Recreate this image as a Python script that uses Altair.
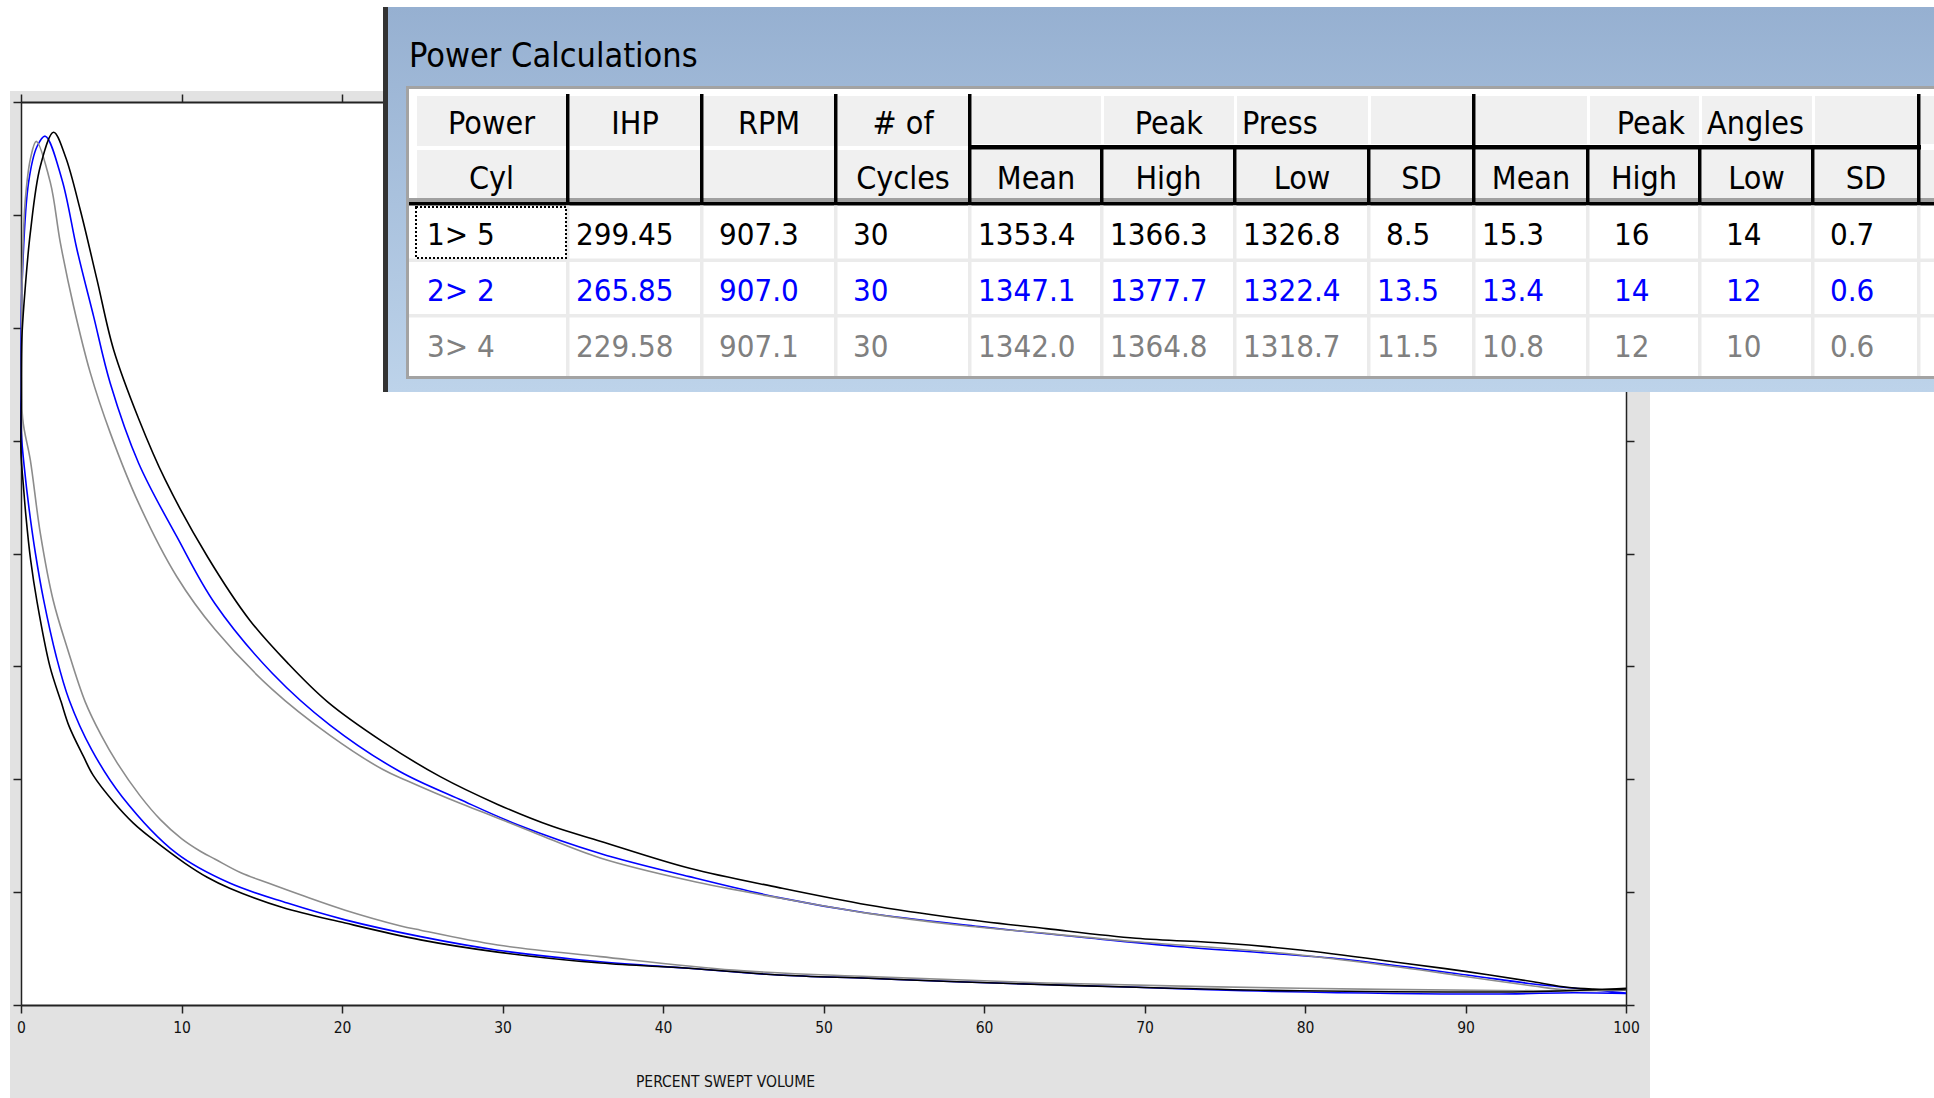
import altair as alt
import pandas as pd

# ---------------- data: table ----------------
TABLE_TITLE = "Power Calculations"
CYL_LABELS = ["1> 5", "2> 2", "3> 4"]
IHP = [299.45, 265.85, 229.58]
RPM = [907.3, 907.0, 907.1]
CYCLES = [30, 30, 30]
PRESS_MEAN = [1353.4, 1347.1, 1342.0]
PRESS_HIGH = [1366.3, 1377.7, 1364.8]
PRESS_LOW = [1326.8, 1322.4, 1318.7]
PRESS_SD = [8.5, 13.5, 11.5]
ANGLE_MEAN = [15.3, 13.4, 10.8]
ANGLE_HIGH = [16, 14, 12]
ANGLE_LOW = [14, 12, 10]
ANGLE_SD = [0.7, 0.6, 0.6]
HEADER_TOP = ["Power", "IHP", "RPM", "# of"]
HEADER_BOTTOM = ["Cyl", "", "", "Cycles", "Mean", "High", "Low", "SD", "Mean", "High", "Low", "SD"]
GROUP_WORDS = [("Peak", "Press"), ("Peak", "Angles")]

# ---------------- data: PV curves (percent swept volume, pressure) ----------------
X_AXIS_TITLE = "PERCENT SWEPT VOLUME"
X_TICKS = [0, 10, 20, 30, 40, 50, 60, 70, 80, 90, 100]
Y_TICKS = [0, 175, 350, 525, 700, 875, 1050, 1225, 1400]

CYL1_X = [100, 94.7, 79.7, 69.5, 58.3, 52.8, 47.2, 41.6, 36.1, 29.7,
          24.9, 20.2, 16.3, 13.0, 11.6, 10.2, 8.2, 7.0, 5.8, 4.5,
          3.9, 3.0, 2.5, 1.8, 1.0, 0.6, 0.3, 0.15, 0.0, 0.02,
          0.05, 0.27, 0.58, 1.2, 2.03, 2.76, 3.69, 4.73, 5.77, 7.33,
          8.99, 11.62, 14.24, 16.62, 19.1, 22.55, 26.12, 29.7, 33.1, 36.09,
          41.66, 47.22, 52.79, 58.34, 63.88, 69.47, 75.0, 79.7, 85.94, 90.09,
          94.22, 96.32, 97.96, 100]
CYL1_P = [26, 21, 22, 27.5, 36, 41.4, 46.5, 57, 65, 82,
          101, 127, 151, 181, 198, 220, 257, 282, 314, 356,
          385, 432, 470, 525, 625, 690, 760, 805, 855, 940,
          1032, 1114, 1197, 1300, 1353, 1316, 1233, 1125, 1016, 909,
          814, 695, 597, 530, 470, 408, 354, 311, 277, 254,
          212, 182, 155, 134.5, 118.4, 103.5, 95.7, 85.3, 65.6, 51.7,
          36.1, 27.5, 24.8, 24]

CYL2_X = [100, 96.7, 91.7, 78.0, 73.5, 69.5, 58.3, 52.8, 47.2, 41.6,
          36.1, 29.7, 24.9, 20.2, 16.6, 13.0, 9.7, 6.3, 4.4, 3.0,
          2.2, 1.41, 0.9, 0.5, 0.2, 0.02, 0.0, 0.06, 0.47, 1.0,
          1.51, 2.55, 3.49, 4.52, 5.56, 7.33, 9.71, 12.09, 15.67,
          19.25, 23.6, 27.32, 30.9, 36.09, 41.64, 47.22, 52.79, 59.74, 66.69,
          72.23, 77.81, 82.82, 90.09, 94.22, 97.96, 100]
CYL2_P = [18, 19, 17, 21, 24, 27.5, 36, 41.4, 46.5, 57,
          67, 85, 106, 132, 158, 189, 235, 323, 396, 473,
          540, 628, 700, 770, 835, 887, 960, 1114, 1275, 1331,
          1347, 1280, 1171, 1068, 964, 840, 726, 622, 514,
          434, 362, 319, 280, 235, 199, 166.5, 142.2, 121.5, 103.5,
          90.4, 80.2, 69.8, 46.5, 32.6, 23.3, 18.6]

CYL3_X = [100, 94.7, 79.7, 63.9, 52.8, 44.4, 36.1, 29.7, 24.9, 23.6,
          20.2, 17.5, 15.4, 13.7, 12.1, 11.2, 10.0, 8.7, 7.4, 6.0,
          5.0, 4.0, 2.9, 2.0, 1.2, 0.58, 0.1, 0.04, 0.12, 0.27,
          0.58, 0.95, 1.83, 2.45, 3.28, 4.32, 5.56, 7.33, 9.71,
          12.09, 15.67, 19.25, 22.55, 24.02, 27.32, 28.79, 32.09, 36.09, 41.64,
          47.22, 52.79, 58.34, 63.88, 69.47, 75.03, 79.7, 85.94, 90.09, 94.22,
          96.32, 100]
CYL3_P = [23, 22, 26, 34, 44, 54, 75, 93, 116, 123,
          147, 170, 189, 205, 226, 238, 258, 287, 325, 375,
          418, 470, 552, 628, 732, 845, 910, 1031, 1171, 1249,
          1311, 1339, 1275, 1182, 1083, 980, 887, 778, 664,
          582, 489, 418, 365, 348, 313, 299, 266, 228, 193,
          166, 142, 124, 111, 98, 88, 77.6, 58.5, 43.9, 29.5,
          23.3, 23]

# ---------------- layout / style ----------------
W, H = 1934, 1098
PL, PR, PT, PB = 21, 1626, 102, 1005
FONT = "Liberation Sans Narrow, DejaVu Sans Condensed, sans-serif"
BG_GRAY = "#e2e2e2"
ROW_COLORS = ["#000000", "#0000ff", "#808080"]
CURVE_COLORS = {"1> 5": "#000000", "2> 2": "#0000ff", "3> 4": "#8c8c8c"}
COL_EDGES = [415, 568, 702, 836, 970, 1102, 1235, 1369, 1474, 1588, 1700, 1813, 1919, 1945]
HDR1 = (96, 146)
HDR2 = (150, 199)
ROW_BASE = [245, 301, 357]
HDR_BASE = [134, 189]
FS_TITLE, FS_HEAD, FS_DATA = 34, 32, 31

PX_X = alt.Scale(domain=[0, W], range=[-PL, W - PL], nice=False, zero=False)
PX_Y = alt.Scale(domain=[0, H], range=[-PT, H - PT], nice=False, zero=False)


def rect_layer(rows):
    df = pd.DataFrame(rows, columns=["x", "x2", "y", "y2", "c"])
    return alt.Chart(df).mark_rect().encode(
        x=alt.X("x:Q", scale=PX_X, axis=None),
        x2="x2:Q",
        y=alt.Y("y:Q", scale=PX_Y, axis=None),
        y2="y2:Q",
        color=alt.Color("c:N", scale=None, legend=None),
    )


def text_layer(rows, align):
    df = pd.DataFrame(rows, columns=["x", "y", "t", "c", "s"])
    return alt.Chart(df).mark_text(align=align, baseline="alphabetic", font=FONT).encode(
        x=alt.X("x:Q", scale=PX_X, axis=None),
        y=alt.Y("y:Q", scale=PX_Y, axis=None),
        text="t:N",
        color=alt.Color("c:N", scale=None, legend=None),
        size=alt.Size("s:Q", scale=None, legend=None),
    )


# ---------------- background (white outside the gray window) ----------------
bg = rect_layer([
    (0, 386, 0, 91, "#ffffff"),
    (0, W, 0, 7, "#ffffff"),
    (0, 10, 0, H, "#ffffff"),
    (1650, W, 392, H, "#ffffff"),
])

# ---------------- PV plot ----------------
frames = []
for name, xs, ps in [("1> 5", CYL1_X, CYL1_P), ("2> 2", CYL2_X, CYL2_P), ("3> 4", CYL3_X, CYL3_P)]:
    frames.append(pd.DataFrame({"cyl": name, "pct": xs, "psi": ps, "idx": range(len(xs))}))
curves_df = pd.concat(frames, ignore_index=True)

XS = alt.Scale(domain=[0, 100], nice=False, zero=False)
YS = alt.Scale(domain=[0, 1400], nice=False, zero=False)
common_axis = dict(grid=False, zindex=0, domainColor="#222222", tickColor="#222222", tickSize=8)

bottom_axis = alt.Axis(orient="bottom", values=X_TICKS, format="d", labelFlush=False, labelOverlap=False,
                       labelFont=FONT, labelFontSize=15.5, labelColor="#111111", labelPadding=7,
                       domainWidth=2, tickWidth=1.5,
                       title=X_AXIS_TITLE, titleFont=FONT, titleFontSize=15.5, titleFontWeight="normal",
                       titleColor="#111111", titleX=704, titleY=76, titleAlign="center",
                       titleBaseline="middle", **common_axis)
left_axis = alt.Axis(orient="left", values=Y_TICKS, labels=False, title=None,
                     domainWidth=1.5, tickWidth=1.5, **common_axis)
top_axis = alt.Axis(orient="top", values=X_TICKS, labels=False, title=None,
                    domainWidth=2, tickWidth=1.5, **common_axis)
right_axis = alt.Axis(orient="right", values=Y_TICKS, labels=False, title=None,
                      domainWidth=1.5, tickWidth=1.5, **common_axis)

ghost = alt.Chart(curves_df).mark_point(opacity=0).encode(
    x=alt.X("pct:Q", scale=XS, axis=top_axis),
    y=alt.Y("psi:Q", scale=YS, axis=right_axis),
)

line_layers = []
for name in ["2> 2", "3> 4", "1> 5"]:
    line_layers.append(
        alt.Chart(curves_df).transform_filter(alt.datum.cyl == name)
        .mark_line(strokeWidth=1.6, color=CURVE_COLORS[name], interpolate="catmull-rom")
        .encode(
            x=alt.X("pct:Q", scale=XS, axis=bottom_axis),
            y=alt.Y("psi:Q", scale=YS, axis=left_axis),
            order="idx:Q",
        )
    )
lines = alt.layer(*line_layers)
plot = alt.layer(ghost, lines).resolve_axis(x="independent", y="independent")

# ---------------- table window ----------------
panel = alt.Chart(pd.DataFrame([{"x": 388, "x2": W, "y": 7, "y2": 392}])).mark_rect(
    color=alt.LinearGradient(
        gradient="linear",
        stops=[alt.GradientStop(color="#96b0d1", offset=0), alt.GradientStop(color="#bdd3ea", offset=1)],
        x1=0, x2=0, y1=0, y2=1,
    )
).encode(
    x=alt.X("x:Q", scale=PX_X, axis=None), x2="x2:Q",
    y=alt.Y("y:Q", scale=PX_Y, axis=None), y2="y2:Q",
)

E = COL_EDGES
rects = [
    (383, 388, 7, 392, "#333333"),
    (406, 1945, 86, 379, "#a3a3a3"),
    (409, 1945, 89, 376, "#ffffff"),
]
for i in range(len(E) - 1):
    left = E[i] + 2
    right = E[i + 1] - 1
    top_bottom = HDR1[1] if i < 4 else 144
    rects.append((left, right, HDR1[0], top_bottom, "#f0f0f0"))
    rects.append((left, right, HDR2[0], HDR2[1], "#f0f0f0"))
rects.append((409, 1945, 198, 202, "#a0a0a0"))
rects.append((409, 1945, 202, 205.5, "#000000"))
rects.append((968, 1921, 145, 149.5, "#000000"))
for e in [568, 702, 836, 970, 1474, 1919]:
    rects.append((e - 2, e + 1.5, 94, 205, "#000000"))
for e in [1102, 1235, 1369, 1588, 1700, 1813]:
    rects.append((e - 2, e + 1.5, 146, 205, "#000000"))
for e in E[1:-1]:
    rects.append((e - 2, e + 1.5, 205.5, 376, "#ebebeb"))
rects.append((409, 1945, 258.5, 262, "#ebebeb"))
rects.append((409, 1945, 314, 317.5, "#ebebeb"))
table_rects = rect_layer(rects)

focus = alt.Chart(pd.DataFrame([{"x": 416, "x2": 566, "y": 207, "y2": 258}])).mark_rect(
    fillOpacity=0, stroke="#000000", strokeWidth=2, strokeDash=[2, 2]
).encode(
    x=alt.X("x:Q", scale=PX_X, axis=None), x2="x2:Q",
    y=alt.Y("y:Q", scale=PX_Y, axis=None), y2="y2:Q",
)

left_txt = [(409, 67, TABLE_TITLE, "#000000", FS_TITLE)]
center_txt = []
right_txt = []
for i, t in enumerate(HEADER_TOP):
    center_txt.append(((E[i] + E[i + 1]) / 2, HDR_BASE[0], t, "#000000", FS_HEAD))
for i, t in enumerate(HEADER_BOTTOM):
    if t:
        center_txt.append(((E[i] + E[i + 1]) / 2, HDR_BASE[1], t, "#000000", FS_HEAD))
right_txt.append((1203, HDR_BASE[0], GROUP_WORDS[0][0], "#000000", FS_HEAD))
left_txt.append((1242, HDR_BASE[0], GROUP_WORDS[0][1], "#000000", FS_HEAD))
right_txt.append((1685, HDR_BASE[0], GROUP_WORDS[1][0], "#000000", FS_HEAD))
left_txt.append((1707, HDR_BASE[0], GROUP_WORDS[1][1], "#000000", FS_HEAD))

COLUMNS = [CYL_LABELS, IHP, RPM, CYCLES, PRESS_MEAN, PRESS_HIGH, PRESS_LOW, PRESS_SD,
           ANGLE_MEAN, ANGLE_HIGH, ANGLE_LOW, ANGLE_SD]
FORMATS = ["{}", "{:6.2f}", "{:6.1f}", "{:3d}", "{:6.1f}", "{:6.1f}", "{:6.1f}", "{:4.1f}",
           "{:4.1f}", "{:4d}", "{:4d}", "{:4.1f}"]
for ci, (vals, fmt) in enumerate(zip(COLUMNS, FORMATS)):
    for ri, v in enumerate(vals):
        s = fmt.format(v)
        n_lead = len(s) - len(s.lstrip(" "))
        x = E[ci] + (12 if ci == 0 else 8) + 9 * n_lead
        left_txt.append((x, ROW_BASE[ri], s.strip(), ROW_COLORS[ri], FS_DATA))

texts_left = text_layer(left_txt, "left")
texts_center = text_layer(center_txt, "center")
texts_right = text_layer(right_txt, "right")

chart = alt.layer(
    bg, plot, panel, table_rects, focus, texts_left, texts_center, texts_right
).resolve_scale(
    x="independent", y="independent"
).properties(
    width=PR - PL,
    height=PB - PT,
    padding={"left": PL, "top": PT, "right": W - PR, "bottom": H - PB},
    autosize=alt.AutoSizeParams(type="none"),
    background=BG_GRAY,
).configure_view(
    fill="#ffffff", stroke="transparent"
)

chart.save("out.html", embed_options={"renderer": "svg", "actions": False})
